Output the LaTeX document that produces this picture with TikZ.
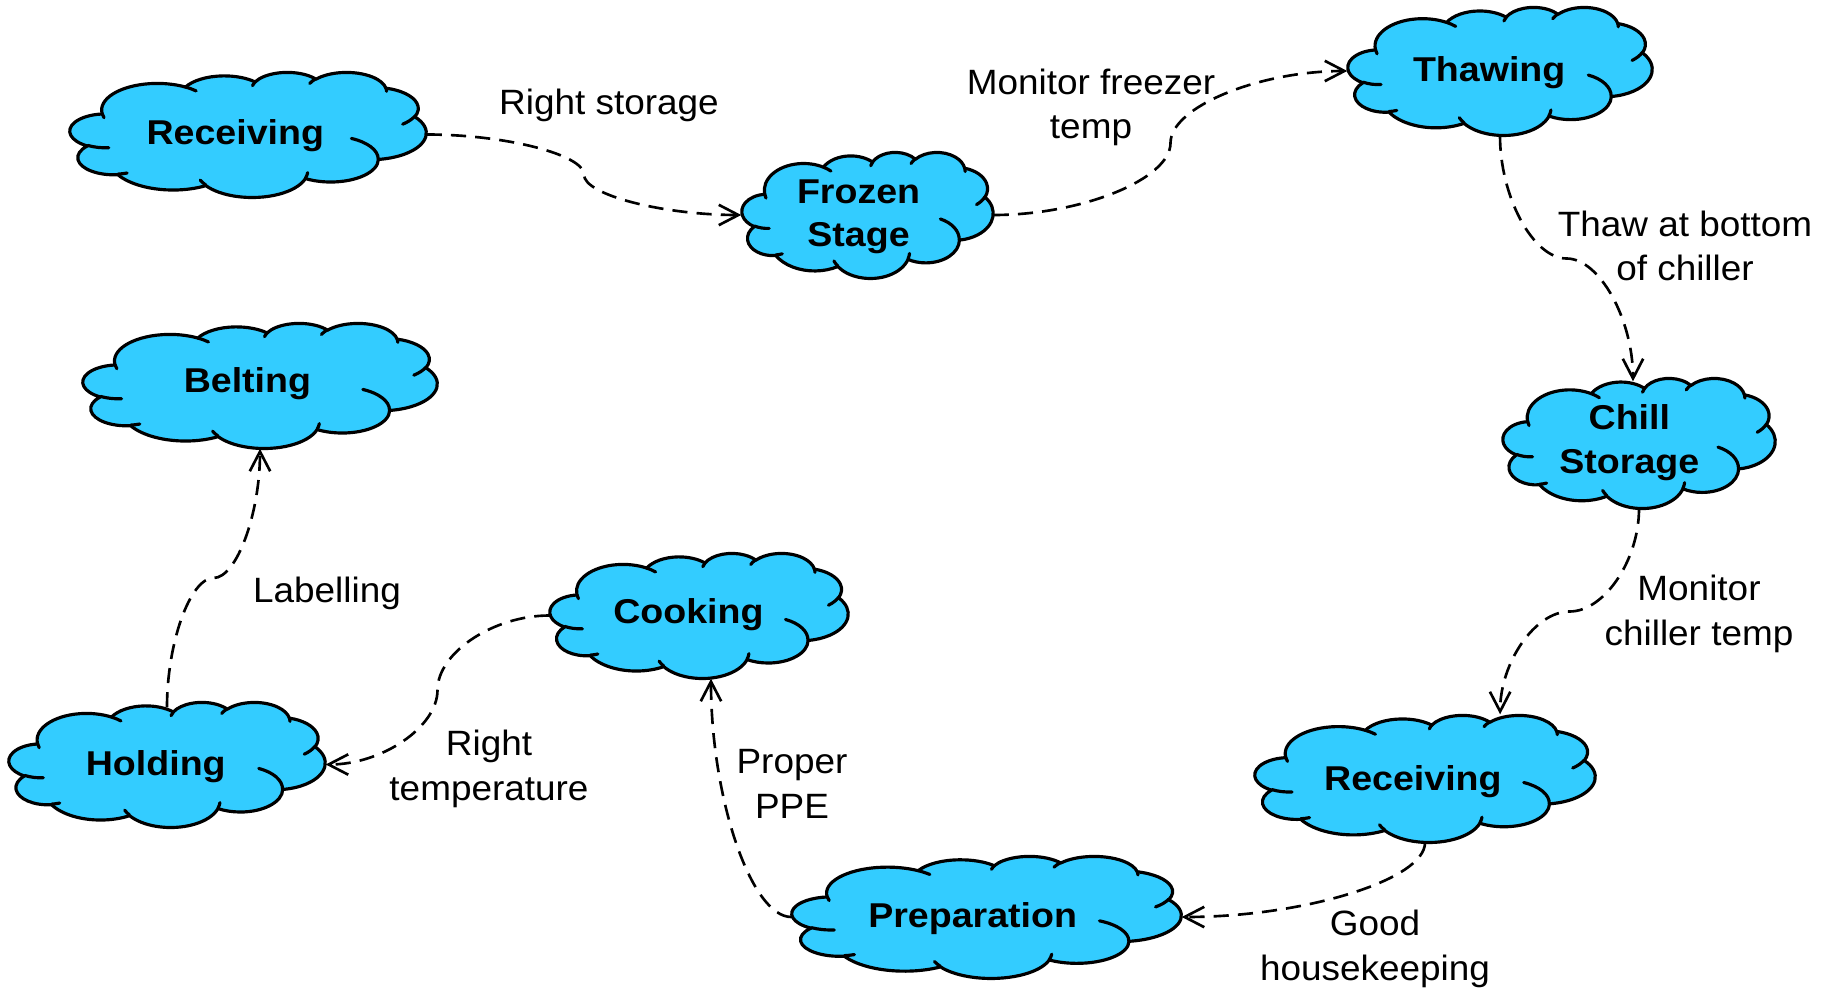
\documentclass[tikz,border=0pt]{standalone}
\usepackage{fontspec}
\setmainfont[FakeStretch=1.05]{Liberation Sans}
\newfontfamily\puffface[FakeStretch=1.09]{Liberation Sans}
\usetikzlibrary{arrows.meta,calc}

\definecolor{puffblue}{HTML}{33CCFF}

% Cloud outline in a 43.2 x 43.2 box, y measured downwards
\def\puffoutline{(3.9,14.37)
  arc[start angle=-187.75, end angle=-59.64,  x radius=6.753, y radius=9.19]
  arc[start angle=-152.03, end angle=-45.42,  x radius=5.333, y radius=7.267]
  arc[start angle=-153.49, end angle=-37.33,  x radius=4.365, y radius=5.945]
  arc[start angle=-139.71, end angle=-10.21,  x radius=4.857, y radius=6.595]
  arc[start angle=-74.77,  end angle=23.21,   x radius=5.333, y radius=7.273]
  arc[start angle=-37.51,  end angle=81.86,   x radius=6.775, y radius=9.22]
  arc[start angle=0.46,    end angle=121.97,  x radius=5.785, y radius=7.867]
  arc[start angle=16.84,   end angle=146.22,  x radius=6.752, y radius=9.215]
  arc[start angle=58.98,   end angle=150.19,  x radius=7.72,  y radius=10.543]
  arc[start angle=-276.69, end angle=-136.91, x radius=4.36,  y radius=5.918]
  arc[start angle=-239.64, end angle=-95.89,  x radius=4.345, y radius=5.945]
  -- cycle}
% Inner fold lines of the cloud
\def\pufffolds{
  (4.693,26.177) arc[start angle=85.55, end angle=120.36, x radius=4.345, y radius=5.945]
  (6.928,34.899) arc[start angle=68.24, end angle=83.31, x radius=4.36, y radius=5.918]
  (16.478,39.09) arc[start angle=146.22, end angle=158.47, x radius=6.752, y radius=9.215]
  (28.827,34.751) arc[start angle=4.74, end angle=16.84, x radius=6.752, y radius=9.215]
  (34.129,22.954) arc[start angle=-64.03, end angle=0.46, x radius=5.785, y radius=7.867]
  (41.798,15.354) arc[start angle=23.21, end angle=49.64, x radius=5.333, y radius=7.273]
  (38.324,5.426) arc[start angle=-10.21, end angle=0.82, x radius=4.857, y radius=6.595]
  (29.078,3.952) arc[start angle=-156.29, end angle=-139.71, x radius=4.857, y radius=6.595]
  (22.141,4.72) arc[start angle=-167.73, end angle=-153.49, x radius=4.365, y radius=5.945]
  (14,5.192) arc[start angle=-59.64, end angle=-45.75, x radius=6.753, y radius=9.19]
  (4.127,15.789) arc[start angle=163.2, end angle=172.25, x radius=6.753, y radius=9.19]
}

\tikzset{
  puffbody/.style={fill=puffblue, draw=black, line width=0.9pt, line join=round},
  puffline/.style={draw=black, line width=0.9pt, line cap=round},
  puffbox/.style={rectangle, draw=none, inner sep=0pt},
  pufftext/.style={anchor=base, align=center, inner sep=0pt,
    font=\puffface\bfseries\fontsize{9.8}{12.5}\selectfont},
  linklabel/.style={anchor=base, align=center, inner sep=0pt,
    font=\fontsize{10}{12.7}\selectfont},
  link/.style={line width=0.75pt, dash pattern=on 4.3pt off 2.6pt,
    -{Straight Barb[length=5.6pt,width=5.8pt]}}
}

% cloud: name, left, top, width, height, text, baseline of last line
\newcommand{\puff}[7]{%
  \begin{scope}[shift={(#2,#3)}, x=1cm, y=1cm, xscale={#4/4320}, yscale={-#5/4320}]
    \path[puffbody] \puffoutline;
    \path[puffline] \pufffolds;
  \end{scope}
  \node[puffbox, minimum width={#4*0.01cm}, minimum height={#5*0.01cm}] (#1) at ({#2+#4/2},{#3+#5/2}) {};
  \node[pufftext] (#1-t) at ({#2+0.4644*#4},#7) {#6};
}

% curved connectors: h = leaves/enters horizontally, v = vertically
\newcommand{\linkhh}[2]{%
  \draw[link] let \p1=(#1), \p2=(#2) in (\p1)
    .. controls ({\x1+(\x2-\x1)/4},\y1) and ({(\x1+\x2)/2},{\y1+(\y2-\y1)/4}) .. ({(\x1+\x2)/2},{(\y1+\y2)/2})
    .. controls ({(\x1+\x2)/2},{\y1+3*(\y2-\y1)/4}) and ({\x2-(\x2-\x1)/4},\y2) .. (\p2);}
\newcommand{\linkvv}[2]{%
  \draw[link] let \p1=(#1), \p2=(#2) in (\p1)
    .. controls (\x1,{\y1+(\y2-\y1)/4}) and ({\x1+(\x2-\x1)/4},{(\y1+\y2)/2}) .. ({(\x1+\x2)/2},{(\y1+\y2)/2})
    .. controls ({\x1+3*(\x2-\x1)/4},{(\y1+\y2)/2}) and (\x2,{\y2-(\y2-\y1)/4}) .. (\p2);}
\newcommand{\linkvh}[2]{%
  \draw[link] let \p1=(#1), \p2=(#2) in (\p1)
    .. controls (\x1,{(\y1+\y2)/2}) and ({(\x1+\x2)/2},\y2) .. (\p2);}
\newcommand{\linkhv}[2]{%
  \draw[link] let \p1=(#1), \p2=(#2) in (\p1)
    .. controls ({(\x1+\x2)/2},\y1) and (\x2,{(\y1+\y2)/2}) .. (\p2);}

\begin{document}
\begin{tikzpicture}[x=0.01cm, y=-0.01cm]
  \useasboundingbox (0,0) rectangle (1830,988);

  % process stages
  \puff{rec1}{70}{72}{356}{125}{Receiving}{145}
  \puff{fro}{742}{152}{251}{126}{Frozen\\Stage}{247}
  \puff{thaw}{1348}{7}{304}{128}{Thawing}{82}
  \puff{chill}{1503}{378}{272}{130}{Chill\\Storage}{473}
  \puff{rec2}{1255}{715}{340}{127}{Receiving}{790}
  \puff{prep}{792}{856}{389}{122}{Preparation}{927}
  \puff{cook}{550}{553}{298}{125}{Cooking}{623}
  \puff{hold}{9}{702}{316}{125}{Holding}{775}
  \puff{belt}{83}{323}{354}{125}{Belting}{393}

  % flow between stages
  \linkhh{rec1.east}{fro.west}
  \linkhh{fro.east}{thaw.west}
  \linkvv{thaw.south}{$(chill.north)+(-6,4)$}
  \linkvv{chill.south}{$(rec2.north west)!0.72!(rec2.north east)$}
  \linkvh{rec2.south}{prep.east}
  \linkhv{prep.west}{$(cook.south west)!0.54!(cook.south east)$}
  \linkhh{cook.west}{hold.east}
  \linkvv{$(hold.north)+(0,6)$}{belt.south}

  % control measures
  \node[linklabel] (l1) at (609,115) {Right storage};
  \node[linklabel] (l2) at (1091,139) {Monitor freezer\\temp};
  \node[linklabel] (l3) at (1685,281) {Thaw at bottom\\of chiller};
  \node[linklabel] (l4) at (1699,645) {Monitor\\chiller temp};
  \node[linklabel] (l5) at (1375,980) {Good\\housekeeping};
  \node[linklabel] (l6) at (792,818) {Proper\\PPE};
  \node[linklabel] (l7) at (489,800) {Right\\temperature};
  \node[linklabel] (l8) at (327,602) {Labelling};
\end{tikzpicture}
\end{document}
